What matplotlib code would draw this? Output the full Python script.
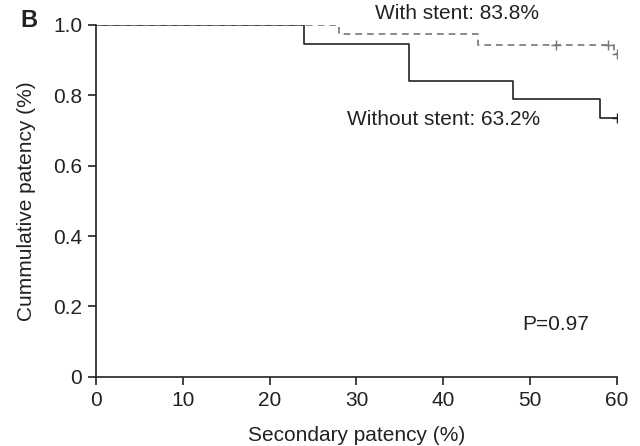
import matplotlib.pyplot as plt

plt.rcParams['font.family'] = ['Liberation Sans', 'DejaVu Sans']

# Kaplan-Meier steps
without_t = [0, 24, 36, 48, 58, 60]
without_s = [1.0, 0.947, 0.842, 0.790, 0.737, 0.737]
without_cens_t = [60]
without_cens_s = [0.737]

with_t = [0, 28, 44, 59.7, 60]
with_s = [1.0, 0.973, 0.944, 0.918, 0.918]
with_cens_t = [53, 59, 60]
with_cens_s = [0.944, 0.944, 0.918]

x_ticks = [0, 10, 20, 30, 40, 50, 60]
y_ticks = [0, 0.2, 0.4, 0.6, 0.8, 1.0]
y_labels = ["0", "0.2", "0.4", "0.6", "0.8", "1.0"]

ink = "#222222"
fs = 15

fig = plt.figure(figsize=(6.4, 4.46), dpi=100)
ax = fig.add_axes([0.15, 0.155, 0.814, 0.789])

ax.step(without_t, without_s, where="post", color=ink, lw=1.2)
ax.plot(without_cens_t, without_cens_s, "+", color=ink, ms=7, mew=1.0)
ax.step(with_t, with_s, where="post", color="#777777", lw=1.2, ls=(0, (4, 3)))
ax.plot(with_cens_t, with_cens_s, "+", color="#777777", ms=7, mew=1.0)

ax.text(41.6, 1.034, "With stent: 83.8%", fontsize=fs, ha="center", va="center", color=ink)
ax.text(40, 0.73, "Without stent: 63.2%", fontsize=fs, ha="center", va="center", color=ink)
ax.text(53, 0.148, "P=0.97", fontsize=fs, ha="center", va="center", color=ink)
fig.text(0.045, 0.953, "B", fontsize=17, fontweight="bold", ha="center", va="center", color=ink)

ax.set_xlim(0, 60)
ax.set_ylim(0, 1.0)
ax.set_xticks(x_ticks)
ax.set_yticks(y_ticks)
ax.set_yticklabels(y_labels)
ax.spines["top"].set_visible(False)
ax.spines["right"].set_visible(False)
for s in ("left", "bottom"):
    ax.spines[s].set_color(ink)
    ax.spines[s].set_linewidth(1.2)
ax.tick_params(direction="out", length=6, width=1.2, labelsize=fs, colors=ink, pad=4)
ax.set_xlabel("Secondary patency (%)", fontsize=fs, labelpad=12, color=ink)
ax.set_ylabel("Cummulative patency (%)", fontsize=fs, labelpad=12, color=ink)
for sp in ax.spines.values():
    sp.set_clip_on(False)

fig.savefig("out.png", dpi=100)
